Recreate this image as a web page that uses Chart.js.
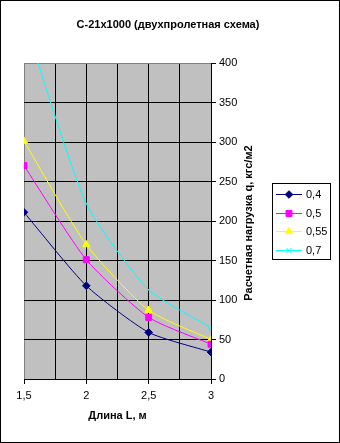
<!DOCTYPE html>
<html><head><meta charset="utf-8">
<script src="https://cdn.jsdelivr.net/npm/chart.js@4/dist/chart.umd.min.js"></script>
<style>html,body{margin:0;padding:0;background:#fff}canvas{display:block}</style>
</head><body><canvas id="c" width="340" height="443"></canvas>
<script>
// ---- data ----
const lengths = [1.5, 2, 2.5, 3];
const seriesNames = ['0,4', '0,5', '0,55', '0,7'];
const s04 = [211, 118, 59, 34];
const s05 = [270, 151, 78, 44];
const s055 = [301, 170, 87, 50];
const s07 = [455, 222, 113, 65];
const yTicks = [0, 50, 100, 150, 200, 250, 300, 350, 400];
const xTickLabels = ['1,5', '2', '2,5', '3'];
const chartTitle = 'С-21х1000 (двухпролетная схема)';
const xTitle = 'Длина L, м';
const yTitle = 'Расчетная нагрузка q, кгс/м2';

const FONT = "Arial, 'Liberation Sans', sans-serif";
const colors = ['#000080', '#FF00FF', '#FFFF00', '#00FFFF'];
const styles = ['rectRot', 'rect', 'triangle', 'crossRot'];
const radii = [3.8, 4.2, 4.2, 3.5];
const allSeries = [s04, s05, s055, s07];

const datasets = allSeries.map((s, k) => ({
  label: seriesNames[k],
  data: lengths.map((x, i) => ({x: x, y: s[i]})),
  borderColor: colors[k],
  backgroundColor: colors[k],
  pointBackgroundColor: colors[k],
  pointBorderColor: colors[k],
  pointStyle: styles[k],
  pointRadius: radii[k],
  pointBorderWidth: 1,
  borderWidth: 1,
  tension: 0.2,
  fill: false
}));

function isHalf(v) { return Math.abs(v * 2 - Math.round(v * 2)) < 1e-6; }
function fmt(v) { return String(v).replace('.', ','); }

const deco = {
  id: 'deco',
  beforeDraw(chart) {
    const ctx = chart.ctx, a = chart.chartArea;
    ctx.save();
    ctx.fillStyle = '#fff';
    ctx.fillRect(0, 0, chart.width, chart.height);
    ctx.fillStyle = '#C0C0C0';
    ctx.fillRect(a.left, a.top, a.right - a.left, a.bottom - a.top);
    ctx.restore();
  },
  afterDraw(chart) {
    const ctx = chart.ctx, a = chart.chartArea;
    ctx.save();
    // outer border
    ctx.strokeStyle = '#000';
    ctx.lineWidth = 1;
    ctx.strokeRect(0.5, 0.5, chart.width - 1, chart.height - 1);
    // title
    ctx.fillStyle = '#000';
    ctx.font = 'bold 11px ' + FONT;
    ctx.textAlign = 'center';
    ctx.textBaseline = 'middle';
    ctx.fillText(chartTitle, 168, 25);
    // y title
    ctx.save();
    ctx.translate(249, (a.top + a.bottom) / 2 + 2);
    ctx.rotate(-Math.PI / 2);
    ctx.fillText(yTitle, 0, 0);
    ctx.restore();
    // legend
    const lx = 272, ly = 183, lw = 58, lh = 76;
    ctx.fillStyle = '#fff';
    ctx.fillRect(lx, ly, lw, lh);
    ctx.strokeStyle = '#000';
    ctx.strokeRect(lx + 0.5, ly + 0.5, lw, lh);
    ctx.font = '11px ' + FONT;
    ctx.textAlign = 'left';
    for (let k = 0; k < seriesNames.length; k++) {
      const y = Math.round(193.7 + k * 18.85) + 0.5;
      ctx.strokeStyle = colors[k];
      ctx.lineWidth = 1;
      ctx.beginPath();
      ctx.moveTo(276, y);
      ctx.lineTo(302, y);
      ctx.stroke();
      if (Chart.helpers && Chart.helpers.drawPoint) {
        ctx.fillStyle = colors[k];
        ctx.strokeStyle = colors[k];
        Chart.helpers.drawPoint(ctx, {pointStyle: styles[k], radius: radii[k], rotation: 0, borderWidth: 1}, 289, y);
      }
      ctx.fillStyle = '#000';
      ctx.textBaseline = 'middle';
      ctx.fillText(seriesNames[k], 306, y);
    }
    ctx.restore();
  }
};

new Chart(document.getElementById('c'), {
  type: 'line',
  data: {datasets: datasets},
  plugins: [deco],
  options: {
    responsive: false,
    devicePixelRatio: 1,
    animation: false,
    layout: {padding: {left: 24, top: 63, right: 0, bottom: 0}},
    plugins: {legend: {display: false}, title: {display: false}, tooltip: {enabled: false}},
    scales: {
      x: {
        type: 'linear',
        position: 'bottom',
        min: 1.5, max: 3,
        afterFit: s => { s.height = 64; },
        afterBuildTicks: s => {
          const t = [];
          for (let v = 1.5; v <= 3.0001; v += 0.25) t.push({value: Math.round(v * 100) / 100});
          s.ticks = t;
        },
        ticks: {
          autoSkip: false, maxRotation: 0, minRotation: 0,
          padding: 5,
          color: '#000',
          font: {family: FONT, size: 11},
          callback: v => {
            if (!isHalf(v)) return '';
            const i = lengths.indexOf(v);
            return i >= 0 ? xTickLabels[i] : fmt(v);
          }
        },
        grid: {
          color: c => (c.tick && Math.abs(c.tick.value - 1.5) < 1e-6) ? '#808080' : '#000',
          tickColor: c => (c.tick && isHalf(c.tick.value)) ? '#000' : 'rgba(0,0,0,0)',
          tickLength: 5,
          lineWidth: 1
        },
        border: {color: '#000', width: 1},
        title: {
          display: true, text: xTitle, color: '#000',
          font: {family: FONT, size: 11, weight: 'bold'},
          padding: {top: 0, bottom: 20}
        }
      },
      y: {
        type: 'linear',
        position: 'right',
        min: 0, max: 400,
        afterFit: s => { s.width = 129; },
        afterBuildTicks: s => { s.ticks = yTicks.map(v => ({value: v})); },
        ticks: {
          padding: 3,
          color: '#000',
          font: {family: FONT, size: 11}
        },
        grid: {
          color: c => (c.tick && c.tick.value === 400) ? '#808080' : '#000',
          tickColor: '#000',
          tickLength: 5,
          lineWidth: 1
        },
        border: {color: '#000', width: 1}
      }
    }
  }
});
</script>
</body></html>
